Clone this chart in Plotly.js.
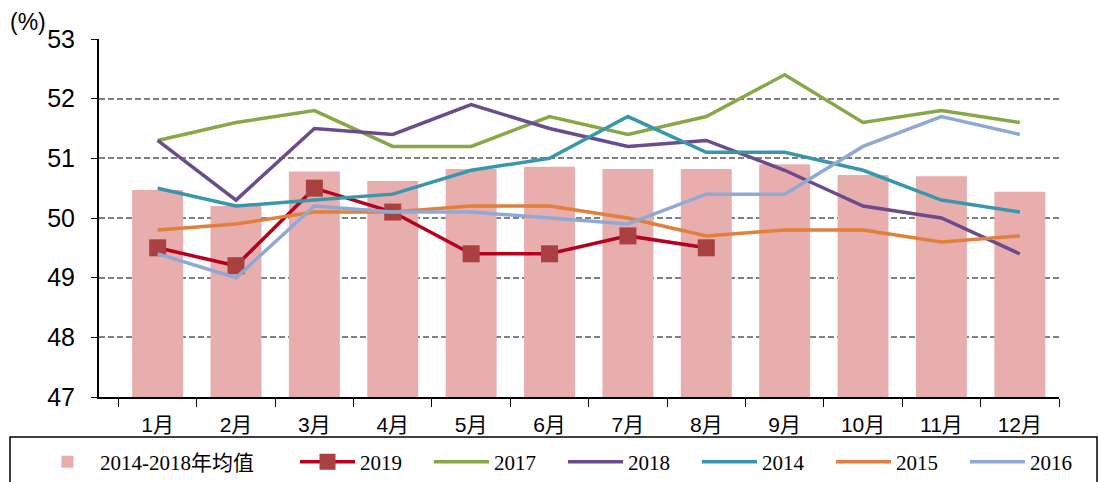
<!DOCTYPE html>
<html><head><meta charset="utf-8">
<script src="https://cdn.plot.ly/plotly-3.0.1.min.js"></script>
<style>html,body{margin:0;padding:0;background:#fff;}#chart{width:1099px;height:482px;}</style>
</head><body><div id="chart"></div>
<script>
var months = ['1月','2月','3月','4月','5月','6月','7月','8月','9月','10月','11月','12月'];
var avg1418 = [50.47, 50.20, 50.78, 50.62, 50.82, 50.86, 50.82, 50.82, 50.90, 50.72, 50.70, 50.44];
var y2019 = [49.5, 49.2, 50.5, 50.1, 49.4, 49.4, 49.7, 49.5];
var y2017 = [51.3, 51.6, 51.8, 51.2, 51.2, 51.7, 51.4, 51.7, 52.4, 51.6, 51.8, 51.6];
var y2018 = [51.3, 50.3, 51.5, 51.4, 51.9, 51.5, 51.2, 51.3, 50.8, 50.2, 50.0, 49.4];
var y2014 = [50.5, 50.2, 50.3, 50.4, 50.8, 51.0, 51.7, 51.1, 51.1, 50.8, 50.3, 50.1];
var y2015 = [49.8, 49.9, 50.1, 50.1, 50.2, 50.2, 50.0, 49.7, 49.8, 49.8, 49.6, 49.7];
var y2016 = [49.4, 49.0, 50.2, 50.1, 50.1, 50.0, 49.9, 50.4, 50.4, 51.2, 51.7, 51.4];

var sans = '"Liberation Sans", Arial, "Noto Sans CJK SC", sans-serif';
var serif = '"Liberation Serif", "Noto Sans CJK SC", serif';

function line(name, y, color) {
  return {type:'scatter', mode:'lines', name:name, legend:'legend2', x:months.slice(0, y.length), y:y,
    line:{color:color, width:3.5}, hoverinfo:'skip'};
}
var traces = [
  {type:'bar', name:'2014-2018年均值', x:months, y:avg1418, base:0, marker:{color:'#E8AEAE'}, width:0.65, hoverinfo:'skip', legend:'legend'},
  {type:'scatter', mode:'lines+markers', name:'2019', legend:'legend2', x:months.slice(0, y2019.length), y:y2019,
    line:{color:'#B5001E', width:3.5}, marker:{symbol:'square', size:17, color:'#A8413F'}, hoverinfo:'skip'},
  line('2017', y2017, '#86A847'),
  line('2018', y2018, '#6A4C8C'),
  line('2014', y2014, '#3897AC'),
  line('2015', y2015, '#E0803A'),
  line('2016', y2016, '#8EAAD4')
];
var legY = 1 - 462/482;
var layout = {
  width:1099, height:482,
  margin:{l:99, r:40, t:39, b:85},
  paper_bgcolor:'#fff', plot_bgcolor:'#fff',
  showlegend:true,
  barmode:'overlay',
  xaxis:{type:'category', showline:true, linecolor:'#000', linewidth:1.5, ticks:'outside', ticklen:8, tickcolor:'#000',
    tickson:'boundaries', showgrid:false, tickfont:{family:sans, size:21, color:'#000'}, ticklabelstandoff:8, fixedrange:true},
  yaxis:{range:[47,53], dtick:1, showline:true, linecolor:'#000', linewidth:2, ticks:'outside', ticklen:6, tickcolor:'#000',
    showgrid:true, gridcolor:'#808080', griddash:'6px,3px', gridwidth:2, zeroline:false,
    tickfont:{family:sans, size:25, color:'#000'}, ticklabelstandoff:11, fixedrange:true},
  legend:{orientation:'h', xref:'container', yref:'container', x:35/1099, xanchor:'left', y:legY, yanchor:'middle',
    font:{family:serif, size:21, color:'#000'}, bgcolor:'rgba(0,0,0,0)', itemwidth:55},
  legend2:{orientation:'h', xref:'container', yref:'container', x:295/1099, xanchor:'left', y:legY, yanchor:'middle',
    font:{family:serif, size:21, color:'#000'}, bgcolor:'rgba(0,0,0,0)', traceorder:'normal', itemwidth:55,
    entrywidth:64, entrywidthmode:'pixels'},
  shapes:[{type:'rect', xref:'paper', yref:'paper', x0:(10-99)/960, x1:(1097-99)/960, y0:(397-437)/358, y1:(397-490)/358,
    line:{color:'#000', width:1.5}, fillcolor:'rgba(0,0,0,0)'}],
  annotations:[{xref:'paper', yref:'paper', x:(8-99)/960, xanchor:'left', y:(397-22)/358, yanchor:'middle', showarrow:false,
    text:'(%)', font:{family:sans, size:23, color:'#000'}}]
};
Plotly.newPlot('chart', traces, layout, {displayModeBar:false, staticPlot:true});
</script></body></html>
